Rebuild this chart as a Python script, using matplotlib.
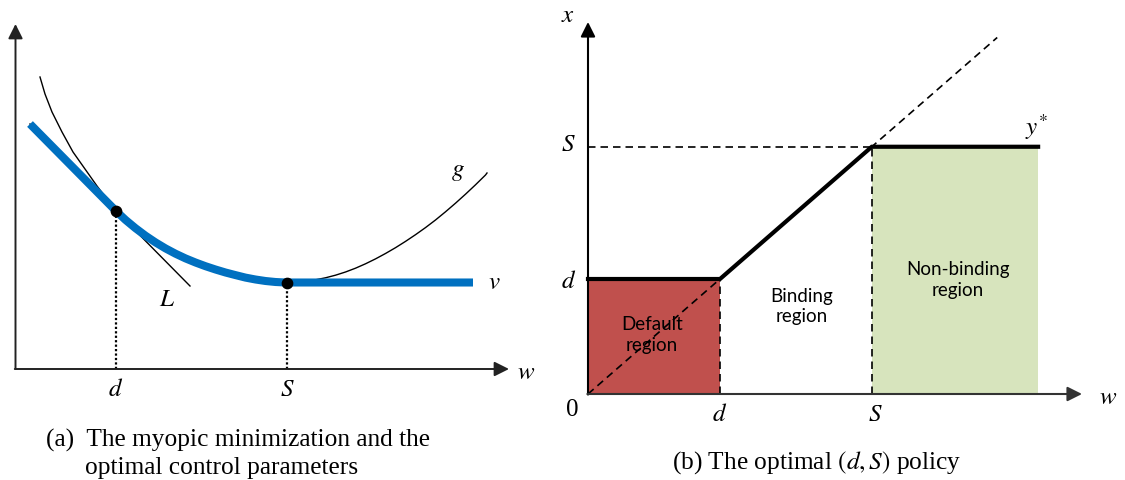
import matplotlib
matplotlib.use("Agg")
import matplotlib.pyplot as plt
from matplotlib.patches import Rectangle

plt.rcParams['mathtext.fontset'] = 'stix'
plt.rcParams['font.family'] = ['Liberation Serif', 'DejaVu Serif']

# ---------------- Panel (a) data ----------------
d_a = 10.05
S_a = 27.15
g_w = [2.45, 2.95, 3.65, 4.65, 5.75, 6.95, 8.15, 10.05, 11, 12, 13, 14, 15, 16, 17,
       18, 19, 20, 21, 22, 23, 24, 25, 26, 27, 27.15, 28, 29, 30, 31, 32, 33, 34,
       35, 36, 37, 38, 39, 40, 41, 42, 43, 44, 45, 46, 47, 47.15]
g_val = [29.2, 27.5, 25.7, 23.7, 21.7, 20.0, 18.3, 15.8, 14.91, 14.08, 13.33, 12.66,
         12.06, 11.53, 11.06, 10.65, 10.28, 9.95, 9.65, 9.39, 9.14, 8.95, 8.80, 8.70,
         8.65, 8.65, 8.69, 8.78, 8.92, 9.12, 9.38, 9.70, 10.08, 10.52, 11.01, 11.55,
         12.13, 12.76, 13.43, 14.14, 14.90, 15.72, 16.58, 17.48, 18.42, 19.40, 19.60]
v_w = [1.45, 10.05, 11, 12, 13, 14, 15, 16, 17, 18, 19, 20, 21, 22, 23, 24, 25, 26,
       27, 27.15, 45.75]
v_val = [24.5, 15.8, 14.91, 14.08, 13.33, 12.66, 12.06, 11.53, 11.06, 10.65, 10.28,
         9.95, 9.65, 9.39, 9.14, 8.95, 8.80, 8.70, 8.65, 8.65, 8.65]
L_w = [1.45, 17.45]
L_val = [24.5, 8.3]
d_val_a = 15.8
S_val_a = 8.65

# ---------------- Panel (b) data ----------------
d_b = 1.0
S_b = 2.15
w_end = 3.41
diag_end = 3.10
policy_w = [0.0, d_b, S_b, w_end]
policy_x = [d_b, d_b, S_b, S_b]
region_labels = ["Default\nregion", "Binding\nregion", "Non-binding\nregion"]

fig = plt.figure(figsize=(11.25, 4.81), dpi=100)

# ---------- Left panel ----------
axL = fig.add_axes([0, 0, 560 / 1125, 1])
axL.set_xlim(-1.55, 54.45)
axL.set_ylim(-11.1, 37.0)
axL.axis('off')

axL.annotate('', xy=(0, 34.5), xytext=(0, 0),
             arrowprops=dict(arrowstyle='-|>', lw=1.4, color='#222222', mutation_scale=22,
                             shrinkA=0, shrinkB=0))
axL.annotate('', xy=(49.35, 0), xytext=(-0.07, 0),
             arrowprops=dict(arrowstyle='-|>', lw=1.4, color='#222222', mutation_scale=22,
                             shrinkA=0, shrinkB=0))

axL.plot(L_w, L_val, color='black', lw=1.0, zorder=2)
axL.plot(g_w, g_val, color='black', lw=1.0, zorder=2)
axL.plot(v_w, v_val, color='#0070C0', lw=5.8, zorder=3, solid_capstyle='butt',
         solid_joinstyle='round')
axL.plot([d_a, d_a], [0, d_val_a], color='black', lw=1.6, ls=(0, (1, 1)), zorder=1)
axL.plot([S_a, S_a], [0, S_val_a], color='black', lw=1.6, ls=(0, (1, 1)), zorder=1)
axL.scatter([d_a, S_a], [d_val_a, S_val_a], s=55, color='black', zorder=4)

mfs = 18
axL.text(15.15, 7.0, r'$L$', fontsize=mfs, ha='center', va='center')
axL.text(44.25, 19.8, r'$g$', fontsize=mfs, ha='center', va='center')
axL.text(47.9, 8.7, r'$v$', fontsize=mfs, ha='center', va='center')
axL.text(51.1, -0.3, r'$w$', fontsize=mfs, ha='center', va='center')
axL.text(d_a, -2.0, r'$d$', fontsize=mfs, ha='center', va='center')
axL.text(S_a, -2.0, r'$S$', fontsize=mfs, ha='center', va='center')
axL.text(3.05, -7.0, "(a)  The myopic minimization and the", fontsize=18.3,
         ha='left', va='center')
axL.text(6.95, -9.8, "optimal control parameters", fontsize=18.3, ha='left', va='center')

# ---------- Right panel ----------
hx, vy = 132.0, 115.0
x0, y0 = 588.0, 395.0
axR = fig.add_axes([560 / 1125, 0, 565 / 1125, 1])
axR.set_xlim((560 - x0) / hx, (1125 - x0) / hx)
axR.set_ylim((y0 - 481) / vy, y0 / vy)
axR.axis('off')

axR.add_patch(Rectangle((0, 0), d_b, d_b, facecolor='#C0504D', edgecolor='none', zorder=1))
axR.add_patch(Rectangle((S_b, 0), w_end - S_b, S_b, facecolor='#D7E4BD', edgecolor='none',
                        zorder=1))

dash = (0, (4.5, 3))
axR.plot([0, diag_end], [0, diag_end], color='black', lw=1.2, ls=dash, zorder=2)
axR.plot([0, S_b], [S_b, S_b], color='black', lw=1.2, ls=dash, zorder=2)
axR.plot([d_b, d_b], [0, d_b], color='black', lw=1.2, ls=dash, zorder=2)
axR.plot([S_b, S_b], [0, S_b], color='black', lw=1.2, ls=dash, zorder=2)
axR.plot(policy_w, policy_x, color='black', lw=3.0, zorder=3, solid_joinstyle='miter')

axR.annotate('', xy=(0, (y0 - 23) / vy), xytext=(0, -0.005),
             arrowprops=dict(arrowstyle='-|>', lw=1.5, color='black', mutation_scale=22,
                             shrinkA=0, shrinkB=0), zorder=4)
axR.annotate('', xy=((1082 - x0) / hx, 0), xytext=(-0.005, 0),
             arrowprops=dict(arrowstyle='-|>', lw=1.5, color='#333333', mutation_scale=22,
                             shrinkA=0, shrinkB=0), zorder=4)

axR.text(-0.15, 3.30, r'$x$', fontsize=mfs, ha='center', va='center')
axR.text(-0.15, S_b + 0.02, r'$S$', fontsize=mfs, ha='center', va='center')
axR.text(-0.15, d_b - 0.02, r'$d$', fontsize=mfs, ha='center', va='center')
axR.text(-0.12, -0.13, '0', fontsize=mfs, ha='center', va='center')
axR.text(d_b, -0.17, r'$d$', fontsize=mfs, ha='center', va='center')
axR.text(S_b + 0.03, -0.17, r'$S$', fontsize=mfs, ha='center', va='center')
axR.text(3.94, -0.03, r'$w$', fontsize=mfs, ha='center', va='center')
axR.text(3.40, 2.33, r'$y^{*}$', fontsize=mfs, ha='center', va='center')

sans = ['Lato', 'DejaVu Sans']
axR.text(0.485, 0.52, region_labels[0], fontsize=13.5, family=sans, ha='center',
         va='center', linespacing=1.25, zorder=5)
axR.text(1.62, 0.77, region_labels[1], fontsize=13.5, family=sans, ha='center',
         va='center', linespacing=1.25, zorder=5)
axR.text(2.80, 1.00, region_labels[2], fontsize=13.5, family=sans, ha='center',
         va='center', linespacing=1.25, zorder=5)

axR.text(1.73, -0.59, r"(b) The optimal $(d,S)$ policy", fontsize=18.3, ha='center',
         va='center')

fig.savefig('out.png', dpi=100)
